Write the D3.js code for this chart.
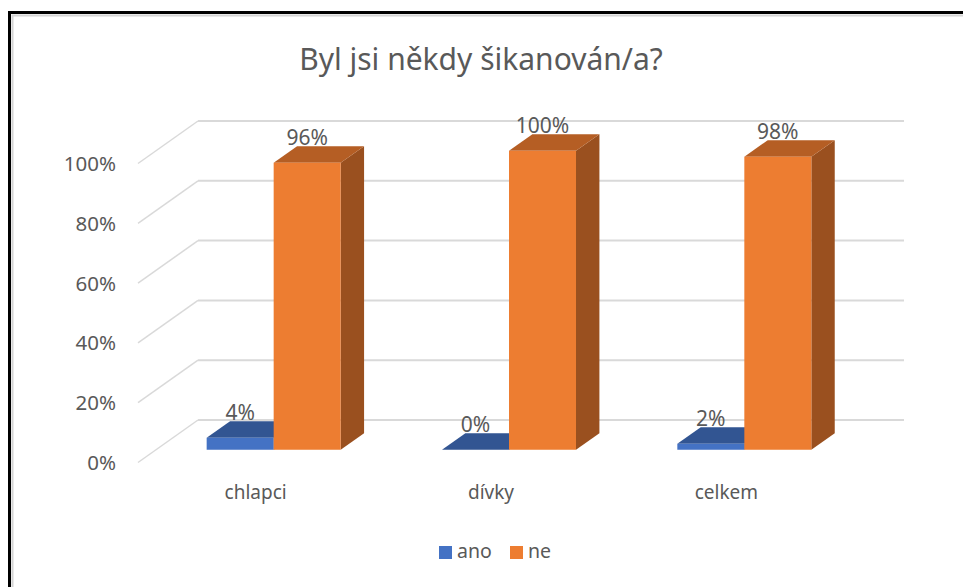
<!DOCTYPE html>
<html>
<head>
<meta charset="utf-8">
<script src="https://cdn.jsdelivr.net/npm/d3@7"></script>
<style>
  body { margin: 0; background: #fff; }
  text { font-family: "Noto Sans", "Open Sans", sans-serif; fill: #595959; }
</style>
</head>
<body>
<div id="chart"></div>
<script>
// data
var categories = ["chlapci", "dívky", "celkem"];
var series = ["ano", "ne"];
var ano = [0.04, 0.00, 0.02];
var ne = [0.96, 1.00, 0.98];
var yTicks = [0, 0.2, 0.4, 0.6, 0.8, 1.0];

var width = 963, height = 587;

var svg = d3.select("#chart")
  .append("svg")
    .attr("width", width)
    .attr("height", height);

// frame of the chart object
svg.append("path")
  .attr("d", "M12.5,587 V15.5 H963")
  .attr("fill", "none")
  .attr("stroke", "#d4d4d4")
  .attr("stroke-width", 2);
svg.append("path")
  .attr("d", "M9.5,587 V12.5 H963")
  .attr("fill", "none")
  .attr("stroke", "#000")
  .attr("stroke-width", 3);

// title
svg.append("text")
  .attr("x", 481)
  .attr("y", 62)
  .attr("text-anchor", "middle")
  .attr("dominant-baseline", "middle")
  .style("font-size", "30px")
  .text("Byl jsi někdy šikanován/a?");

// front plane scales + depth vector for the 3d look
var x = d3.scaleBand()
  .domain(categories)
  .range([138, 844]);

var xs = d3.scaleBand()
  .domain(series)
  .range([0, x.bandwidth()])
  .paddingOuter(0.756);

var y = d3.scaleLinear()
  .domain([0, 1])
  .range([462.5, 163.5]);

var depthX = 60, depthY = -42.5;
var barD0 = 0.3, barD1 = 0.69;

function pt(px, py, d) {
  return [px + d * depthX, py + d * depthY];
}
function poly(points) {
  return "M" + points.map(function(p) { return p[0] + "," + p[1]; }).join("L") + "Z";
}

// grid: back wall lines + side wall diagonals
var grid = svg.append("g");
yTicks.forEach(function(t) {
  var a = pt(x.range()[0], y(t), 0);
  var b = pt(x.range()[0], y(t), 1);
  var c = pt(x.range()[1], y(t), 1);
  grid.append("line")
    .attr("x1", a[0]).attr("y1", a[1])
    .attr("x2", b[0]).attr("y2", b[1])
    .attr("stroke", "#d9d9d9")
    .attr("stroke-width", 1.5);
  grid.append("line")
    .attr("x1", b[0]).attr("y1", b[1])
    .attr("x2", c[0]).attr("y2", c[1])
    .attr("stroke", "#d9d9d9")
    .attr("stroke-width", 2);
});

// y axis labels
svg.append("g").selectAll("text")
  .data(yTicks)
  .enter()
  .append("text")
  .attr("x", 116)
  .attr("y", function(d) { return y(d) + 2; })
  .attr("text-anchor", "end")
  .attr("dominant-baseline", "middle")
  .style("font-size", "20.5px")
  .text(d3.format(".0%"));

// category labels
svg.append("g").selectAll("text")
  .data(categories)
  .enter()
  .append("text")
  .attr("x", function(d) { return x(d) + x.bandwidth() / 2; })
  .attr("y", 494)
  .attr("text-anchor", "middle")
  .attr("dominant-baseline", "middle")
  .style("font-size", "19px")
  .text(function(d) { return d; });

var colors = {
  ano: { front: "#4472c4", top: "#325592", side: "#2b4a80" },
  ne: { front: "#ed7d31", top: "#b55e24", side: "#9a501f" }
};

var bars = [];
categories.forEach(function(c, i) {
  bars.push({ cat: c, s: "ano", v: ano[i] });
  bars.push({ cat: c, s: "ne", v: ne[i] });
});

var barG = svg.append("g");
bars.forEach(function(b) {
  var x0 = x(b.cat) + xs(b.s);
  var x1 = x0 + xs.bandwidth();
  var yb = y(0), yt = y(b.v);
  var col = colors[b.s];
  // side face
  barG.append("path")
    .attr("d", poly([pt(x1, yb, barD0), pt(x1, yb, barD1), pt(x1, yt, barD1), pt(x1, yt, barD0)]))
    .attr("fill", col.side);
  // top face
  barG.append("path")
    .attr("d", poly([pt(x0, yt, barD0), pt(x1, yt, barD0), pt(x1, yt, barD1), pt(x0, yt, barD1)]))
    .attr("fill", col.top);
  // front face
  var f0 = pt(x0, yt, barD0), f1 = pt(x1, yb, barD0);
  barG.append("rect")
    .attr("x", f0[0])
    .attr("y", f0[1])
    .attr("width", f1[0] - f0[0])
    .attr("height", Math.max(0, f1[1] - f0[1]))
    .attr("fill", col.front);
});

// data labels
svg.append("g").selectAll("text")
  .data(bars)
  .enter()
  .append("text")
  .attr("x", function(d) { return pt(x(d.cat) + xs(d.s) + xs.bandwidth() / 2, 0, barD0)[0]; })
  .attr("y", function(d) { return pt(0, y(d.v), barD1)[1] - 1.5; })
  .attr("text-anchor", "middle")
  .style("font-size", "21px")
  .text(function(d) { return d3.format(".0%")(d.v); });

// legend
var legend = svg.append("g");
var legX = [439, 510];
series.forEach(function(s, i) {
  legend.append("rect")
    .attr("x", legX[i])
    .attr("y", 546)
    .attr("width", 13)
    .attr("height", 13)
    .attr("fill", colors[s].front);
  legend.append("text")
    .attr("x", legX[i] + 18)
    .attr("y", 553)
    .attr("dominant-baseline", "middle")
    .style("font-size", "19.5px")
    .text(s);
});
</script>
</body>
</html>
